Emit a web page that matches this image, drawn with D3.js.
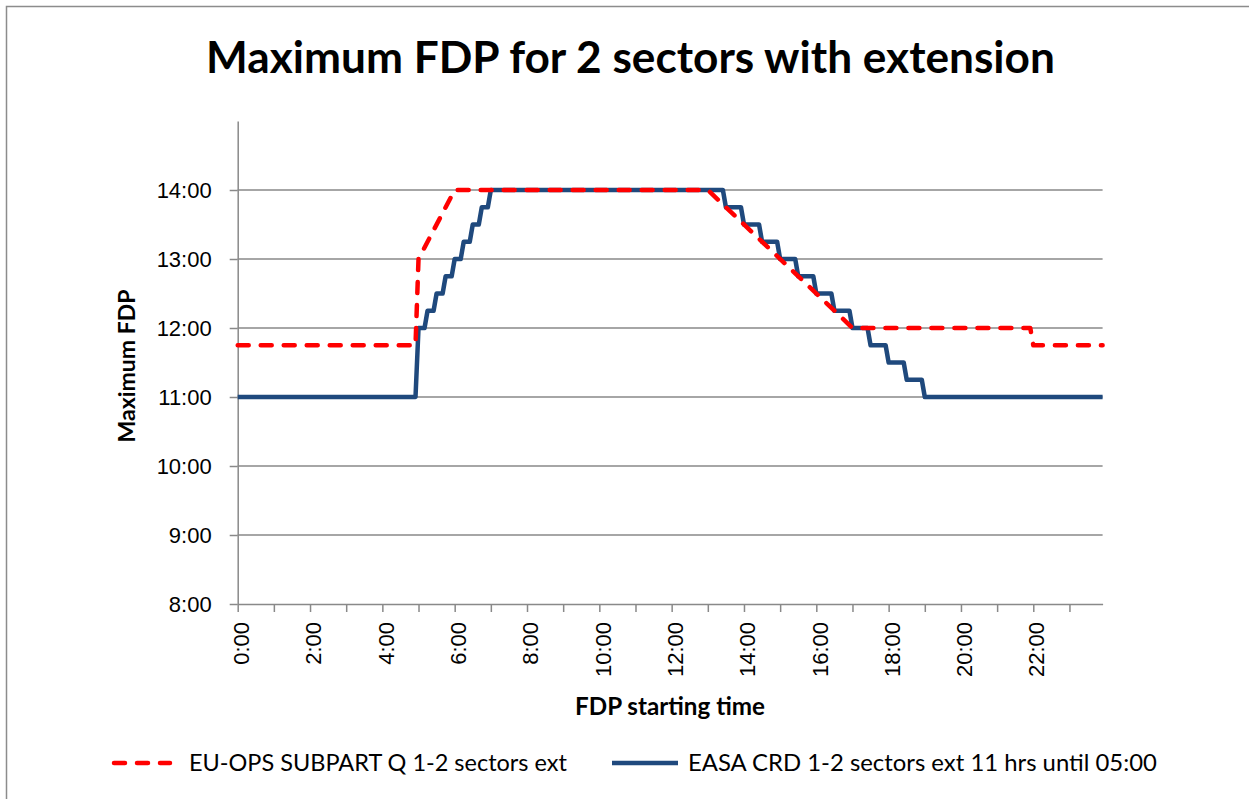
<!doctype html>
<html lang="en">
<head>
<meta charset="utf-8">
<title>Maximum FDP for 2 sectors with extension</title>
<script src="https://d3js.org/d3.v7.min.js"></script>
<style>
  body { margin: 0; background: #fff; }
  svg { display: block; font-family: Lato, "Open Sans", sans-serif; }
  .grid line { stroke: #898989; stroke-width: 1.5px; }
  .axis path, .axis line { stroke: #898989; stroke-width: 1.5px; }
  .axis text { fill: #000; }
</style>
</head>
<body>
<svg width="1249" height="799"></svg>
<script>
// values, "H:MM"
const xTickLabels = ["0:00","2:00","4:00","6:00","8:00","10:00","12:00","14:00","16:00","18:00","20:00","22:00"];
const yTickLabels = ["8:00","9:00","10:00","11:00","12:00","13:00","14:00"];

// EU-OPS SUBPART Q 1-2 sectors ext (vertices)
const euTimes  = ["0:00","4:55","5:00","6:00","13:00","17:00","21:55","22:00","23:55"];
const euValues = ["11:45","11:45","13:00","14:00","14:00","12:00","12:00","11:45","11:45"];

// EASA CRD 1-2 sectors ext 11 hrs until 05:00 (vertices)
const easaTimes = ["0:00","4:55","5:00","5:10","5:15","5:25","5:30","5:40","5:45","5:55","6:00","6:10","6:15","6:25","6:30","6:40","6:45","6:55","7:00",
  "13:25","13:30","13:55","14:00","14:25","14:30","14:55","15:00","15:25","15:30","15:55","16:00","16:25","16:30","16:55","17:00",
  "17:25","17:30","17:55","18:00","18:25","18:30","18:55","19:00","23:55"];
const easaValues = ["11:00","11:00","12:00","12:00","12:15","12:15","12:30","12:30","12:45","12:45","13:00","13:00","13:15","13:15","13:30","13:30","13:45","13:45","14:00",
  "14:00","13:45","13:45","13:30","13:30","13:15","13:15","13:00","13:00","12:45","12:45","12:30","12:30","12:15","12:15","12:00",
  "12:00","11:45","11:45","11:30","11:30","11:15","11:15","11:00","11:00"];

const hrs = s => { const p = s.split(":"); return +p[0] + p[1] / 60; };

const svg = d3.select("svg");

// frame
svg.append("rect").attr("x", 6.5).attr("y", 6.5).attr("width", 1300).attr("height", 900)
  .attr("fill", "none").attr("stroke", "#8c8c8c").attr("stroke-width", 1.5);

const x = d3.scaleLinear().domain([0, hrs("23:55")]).range([237.7, 1102.6]);
const y = d3.scaleLinear().domain([8, 15]).range([604, 121]);

// grid
svg.append("g").attr("class", "grid")
  .selectAll("line").data(yTickLabels.slice(1).map(hrs)).join("line")
  .attr("x1", x.range()[0]).attr("x2", x.range()[1])
  .attr("y1", d => y(d)).attr("y2", d => y(d));

// y axis
const yAxis = svg.append("g").attr("class", "axis")
  .attr("transform", `translate(${x.range()[0]},0)`)
  .call(d3.axisLeft(y).tickValues(yTickLabels.map(hrs)).tickSize(8).tickSizeOuter(0).tickPadding(18)
    .tickFormat((d, i) => yTickLabels[i]));
yAxis.selectAll("text").style("font-size", "22px");

// x axis: minor tick every hour, label every 2 hours
const xAxis = svg.append("g").attr("class", "axis")
  .attr("transform", `translate(0,${y(8)})`)
  .call(d3.axisBottom(x).tickValues(d3.range(0, 24)).tickSize(8).tickSizeOuter(0).tickFormat(""));
xAxis.selectAll(".tick").filter(d => d % 2 === 0).append("text")
  .attr("transform", "rotate(-90)")
  .attr("x", -18).attr("y", 3)
  .attr("dy", "0.35em")
  .attr("text-anchor", "end")
  .style("font-size", "22px")
  .text(d => xTickLabels[d / 2]);

const line = d3.line().x(d => x(d[0])).y(d => y(d[1]));
const euPts = euTimes.map((t, i) => [hrs(t), hrs(euValues[i])]);
const easaPts = easaTimes.map((t, i) => [hrs(t), hrs(easaValues[i])]);

svg.append("path").datum(easaPts).attr("d", line)
  .attr("fill", "none").attr("stroke", "#1f497d").attr("stroke-width", 4.5)
  .attr("stroke-linejoin", "round");
svg.append("path").datum(euPts).attr("d", line)
  .attr("fill", "none").attr("stroke", "#ff0000").attr("stroke-width", 4.5)
  .attr("stroke-dasharray", "11,12").attr("stroke-linecap", "round").attr("stroke-linejoin", "round");

function fit(sel, w) {
  const fs = parseFloat(sel.style("font-size"));
  const len = sel.node().getComputedTextLength();
  sel.style("font-size", (fs * w / len) + "px");
  return sel;
}

// titles
fit(svg.append("text").attr("x", 630.5).attr("y", 73).attr("text-anchor", "middle")
  .style("font-weight", "bold").style("font-size", "40px")
  .text("Maximum FDP for 2 sectors with extension"), 849);

fit(svg.append("text").attr("x", 670).attr("y", 715).attr("text-anchor", "middle")
  .style("font-weight", "bold").style("font-size", "20px")
  .text("FDP starting time"), 190);

fit(svg.append("text").attr("transform", "translate(135,366) rotate(-90)").attr("text-anchor", "middle")
  .style("font-weight", "bold").style("font-size", "20px")
  .text("Maximum FDP"), 153);

// legend
const legend = [
  { name: "EU-OPS SUBPART Q 1-2 sectors ext", color: "#ff0000", dash: "11,12", x0: 114, x1: 170, tx: 189, w: 378 },
  { name: "EASA CRD 1-2 sectors ext 11 hrs until 05:00", color: "#1f497d", dash: null, x0: 612, x1: 678, tx: 688, w: 469 }
];
const lg = svg.append("g").selectAll("g").data(legend).join("g");
lg.append("line").attr("x1", d => d.x0).attr("x2", d => d.x1).attr("y1", 763).attr("y2", 763)
  .attr("stroke", d => d.color).attr("stroke-width", 4.5)
  .attr("stroke-dasharray", d => d.dash).attr("stroke-linecap", d => d.dash ? "round" : "butt");
lg.append("text").attr("x", d => d.tx).attr("y", 771).style("font-size", "20px")
  .text(d => d.name)
  .each(function(d) { fit(d3.select(this), d.w); });
</script>
</body>
</html>
